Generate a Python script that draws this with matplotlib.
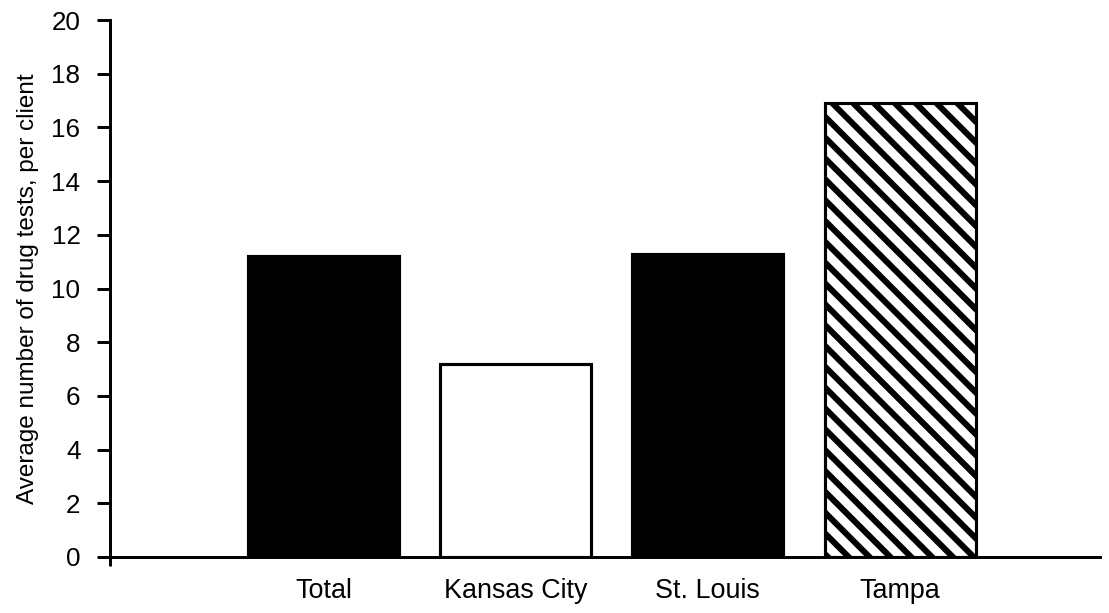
import matplotlib.pyplot as plt
import numpy as np

sites = ["Total", "Kansas City", "St. Louis", "Tampa"]
avg_tests = [11.2, 7.2, 11.3, 16.9]
fills = ["black", "white", "black", "white"]
hatches = [None, None, None, "\\\\"]

plt.rcParams["font.family"] = ["Liberation Sans", "DejaVu Sans"]
plt.rcParams["hatch.linewidth"] = 3.5
plt.rcParams["hatch.color"] = "black"

fig = plt.figure(figsize=(1109 / 125, 613 / 125), dpi=125)
ax = fig.add_axes([110 / 1109, 56 / 613, 990 / 1109, 537 / 613])

x = np.arange(len(sites))
for xi, val, fc, h in zip(x, avg_tests, fills, hatches):
    ax.bar(xi, val, width=0.785, color=fc, edgecolor="black", linewidth=1.8,
           hatch=h)

x_lo, x_hi = -1.11, 4.04
ax.set_xlim(x_lo, x_hi)
ax.set_ylim(0, 20)
ax.set_yticks(range(0, 21, 2))
ax.set_xticks(x)
ax.set_xticklabels(sites)
# short stub below the origin, where the y axis meets the x axis
ax.set_xticks([x_lo], minor=True)

for side in ("top", "right"):
    ax.spines[side].set_visible(False)
for side in ("left", "bottom"):
    ax.spines[side].set_linewidth(1.7)

ax.tick_params(axis="y", direction="out", length=7.5, width=1.7, pad=9.5,
               labelsize=15)
ax.tick_params(axis="x", which="major", length=0, pad=12, labelsize=15.5)
ax.tick_params(axis="x", which="minor", direction="out", length=5, width=1.7)
ax.set_ylabel("Average number of drug tests, per client", fontsize=14,
              labelpad=7)

fig.savefig("out.png", dpi=125)
